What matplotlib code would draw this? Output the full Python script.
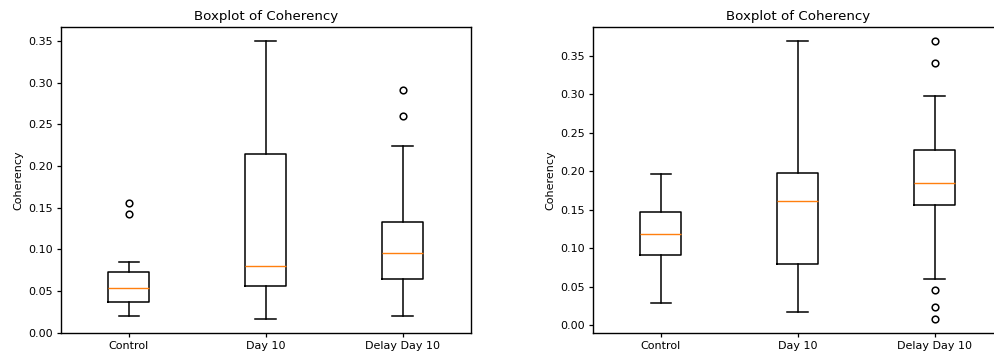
import matplotlib
matplotlib.use('Agg')
import matplotlib.pyplot as plt

# everything is drawn ~0.8 of the default size
s = 0.8
plt.rcParams.update({
    'font.size': 10 * s,
    'axes.linewidth': 1.0,
    'xtick.major.width': 0.9,
    'ytick.major.width': 0.9,
    'xtick.major.size': 3.5 * s,
    'ytick.major.size': 3.5 * s,
    'xtick.major.pad': 3.5 * s,
    'ytick.major.pad': 3.5 * s,
    'axes.titlepad': 6 * s,
    'axes.labelpad': 4 * s,
    'boxplot.boxprops.linewidth': 1.1,
    'boxplot.whiskerprops.linewidth': 1.1,
    'boxplot.capprops.linewidth': 1.1,
    'boxplot.medianprops.linewidth': 1.0,
    'boxplot.flierprops.markersize': 6 * s,
    'boxplot.flierprops.markeredgewidth': 1.1,
})

groups = ['Control', 'Day 10', 'Delay Day 10']

# left panel: whisker low, Q1, median, Q3, whisker high, outliers
left_whislo = [0.0195, 0.0163, 0.0195]
left_q1 = [0.0363, 0.0562, 0.0642]
left_med = [0.0534, 0.0801, 0.0957]
left_q3 = [0.0726, 0.2149, 0.1323]
left_whishi = [0.0849, 0.3500, 0.2236]
left_fliers = [[0.1555, 0.1427], [], [0.2910, 0.2595]]

# right panel
right_whislo = [0.0290, 0.0173, 0.0593]
right_q1 = [0.0905, 0.0788, 0.1555]
right_med = [0.1187, 0.1607, 0.1845]
right_q3 = [0.1464, 0.1980, 0.2283]
right_whishi = [0.1962, 0.3695, 0.2985]
right_fliers = [[], [], [0.3695, 0.3413, 0.0455, 0.0230, 0.0078]]


def make_stats(lo, q1, med, q3, hi, fl):
    stats = []
    for i in range(len(groups)):
        stats.append({'whislo': lo[i], 'q1': q1[i], 'med': med[i], 'q3': q3[i],
                      'whishi': hi[i], 'fliers': fl[i], 'label': groups[i]})
    return stats


fig = plt.figure(figsize=(9.94, 3.58), dpi=100)
W, H = 994.0, 358.0
ax1 = fig.add_axes([60.5 / W, 25 / H, 410.5 / W, 306 / H])
ax2 = fig.add_axes([592.5 / W, 25 / H, 410.5 / W, 306 / H])

ax1.bxp(make_stats(left_whislo, left_q1, left_med, left_q3, left_whishi, left_fliers),
        widths=0.3)
ax2.bxp(make_stats(right_whislo, right_q1, right_med, right_q3, right_whishi, right_fliers),
        widths=0.3)

for ax in (ax1, ax2):
    ax.set_title('Boxplot of Coherency', fontsize=12 * s)
    ax.set_ylabel('Coherency')
    ax.set_xlim(0.5, 3.5)

plt.savefig('out.png', dpi=100)
